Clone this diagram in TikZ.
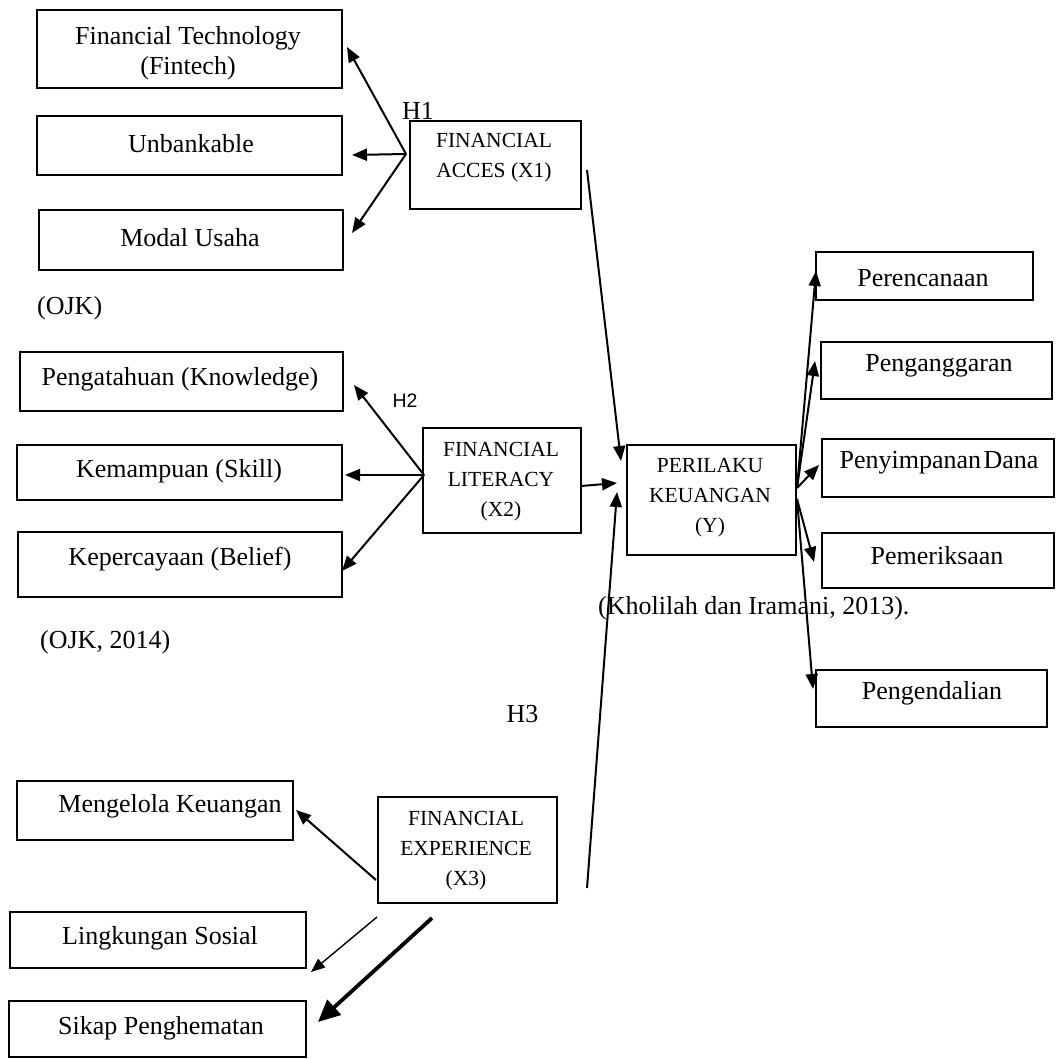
\documentclass[tikz,border=0pt]{standalone}
\usepackage{fontspec}
\setmainfont{Liberation Serif}
\newfontfamily\hsans{Liberation Sans}
\usetikzlibrary{arrows.meta}
\tikzset{
  box/.style={draw, line width=1.8pt, inner sep=0pt},
  big/.style={font=\fontsize{26}{30}\selectfont, inner sep=0pt, align=center},
  small/.style={font=\fontsize{21.5}{30}\selectfont, inner sep=0pt, align=center},
  arr/.style={line width=2pt, -{Triangle[length=15pt,width=12pt]}},
  thinarr/.style={line width=1.4pt, -{Triangle[length=14pt,width=11pt]}},
  thickarr/.style={line width=3.8pt, -{Triangle[length=22pt,width=20pt]}},
}
\begin{document}
\begin{tikzpicture}[x=1pt,y=-1pt]
\useasboundingbox (0,0) rectangle (1055,1059);
% left group 1
\node[box, minimum width=305pt, minimum height=78pt] (ft) at (189.5,49) {};
\node[big] (ftt) at (188,53) {Financial Technology\\(Fintech)};
\node[box, minimum width=305pt, minimum height=59pt] (ub) at (189.5,145.5) {};
\node[big] (ubt) at (191,144) {Unbankable};
\node[box, minimum width=304pt, minimum height=60pt] (mu) at (191,240) {};
\node[big] (mut) at (190,238) {Modal Usaha};
\node[big, anchor=west] (ojk) at (37,308) {(OJK)};
% left group 2
\node[box, minimum width=323pt, minimum height=59pt] (pk) at (181.5,381.5) {};
\node[big] (pkt) at (180,379) {Pengatahuan (Knowledge)};
\node[box, minimum width=325pt, minimum height=55pt] (ks) at (179.5,472.5) {};
\node[big] (kst) at (179,471) {Kemampuan (Skill)};
\node[box, minimum width=324pt, minimum height=65pt] (kb) at (180,564.5) {};
\node[big] (kbt) at (180,559) {Kepercayaan (Belief)};
\node[big, anchor=west] (ojk2) at (40,642) {(OJK, 2014)};
% left group 3
\node[box, minimum width=276pt, minimum height=59pt] (mk) at (155,810.5) {};
\node[big] (mkt) at (170,806) {Mengelola Keuangan};
\node[box, minimum width=296pt, minimum height=56pt] (ls) at (158,940) {};
\node[big] (lst) at (160,938) {Lingkungan Sosial};
\node[box, minimum width=297pt, minimum height=56pt] (sp) at (157.5,1029) {};
\node[big] (spt) at (161,1028) {Sikap Penghematan};
% central boxes
\node[box, minimum width=171pt, minimum height=88pt] (x1) at (495.5,165) {};
\node[small] (x1t) at (494,158) {FINANCIAL\\ACCES (X1)};
\node[box, minimum width=158pt, minimum height=105pt] (x2) at (502,480.5) {};
\node[small] (x2t) at (501,482) {FINANCIAL\\LITERACY\\(X2)};
\node[box, minimum width=179pt, minimum height=106pt] (x3) at (467.5,850) {};
\node[small] (x3t) at (466,851) {FINANCIAL\\EXPERIENCE\\(X3)};
\node[box, minimum width=169pt, minimum height=110pt] (y) at (711.5,500) {};
\node[small] (yt) at (710,498) {PERILAKU\\KEUANGAN\\(Y)};
% right group
\node[box, minimum width=217pt, minimum height=48pt] (pr) at (924.5,276) {};
\node[big] (prt) at (923,278) {Perencanaan};
\node[box, minimum width=231pt, minimum height=57pt] (pg) at (936.5,370.5) {};
\node[big] (pgt) at (939,366) {Penganggaran};
\node[box, minimum width=232pt, minimum height=58pt] (pd) at (938,468) {};
\node[big] (pdt) at (939,463) {Penyimpanan\hspace{-4pt} Dana};
\node[box, minimum width=232pt, minimum height=55pt] (pm) at (938,560.5) {};
\node[big] (pmt) at (937,556) {Pemeriksaan};
\node[box, minimum width=231pt, minimum height=57pt] (pe) at (931.5,698.5) {};
\node[big] (pet) at (932,693) {Pengendalian};
\node[big, anchor=west] (kh) at (598,608) {(Kholilah dan Iramani, 2013).};
% hypothesis labels
\node[font=\fontsize{26}{30}\selectfont, inner sep=0pt, anchor=base] (h1) at (418,120) {H1};
\node[font=\hsans\fontsize{19.5}{24}\selectfont, inner sep=0pt, anchor=base] (h2) at (405,407) {H2};
\node[font=\fontsize{26}{30}\selectfont, inner sep=0pt, anchor=base] (h3) at (522.5,722) {H3};
% coordinates
\coordinate (o1) at (406,154);
\coordinate (a1) at (347,47);
\coordinate (a2) at (352,155);
\coordinate (a3) at (352,233);
\coordinate (o2) at (424,475);
\coordinate (b1) at (354,385);
\coordinate (b2) at (345,475);
\coordinate (b3) at (342,571);
\coordinate (c1s) at (587,170);
\coordinate (c1e) at (621,461);
\coordinate (c2s) at (581,486);
\coordinate (c2e) at (617,483);
\coordinate (c3s) at (587,888);
\coordinate (c3e) at (617,492);
\coordinate (o3) at (797,488);
\coordinate (o4) at (797,499);
\coordinate (d1) at (816,271);
\coordinate (d2) at (815,361);
\coordinate (d3) at (819,465);
\coordinate (d4) at (814,562);
\coordinate (d5) at (813,689);
\coordinate (e1s) at (376,880);
\coordinate (e1e) at (296,810);
\coordinate (e2s) at (377,917);
\coordinate (e2e) at (311,972);
\coordinate (e3s) at (432,918);
\coordinate (e3e) at (318,1022);
% arrows
\draw[arr] (o1) -- (a1);
\draw[arr] (o1) -- (a2);
\draw[arr] (o1) -- (a3);
\draw[arr] (o2) -- (b1);
\draw[arr] (o2) -- (b2);
\draw[arr] (o2) -- (b3);
\draw[arr] (c1s) -- (c1e);
\draw[arr] (c2s) -- (c2e);
\draw[arr] (c3s) -- (c3e);
\draw[arr] (o3) -- (d1);
\draw[arr] (o3) -- (d2);
\draw[arr] (o3) -- (d3);
\draw[arr] (o4) -- (d4);
\draw[arr] (o4) -- (d5);
\draw[arr] (e1s) -- (e1e);
\draw[thinarr] (e2s) -- (e2e);
\draw[thickarr] (e3s) -- (e3e);
\end{tikzpicture}
\end{document}
